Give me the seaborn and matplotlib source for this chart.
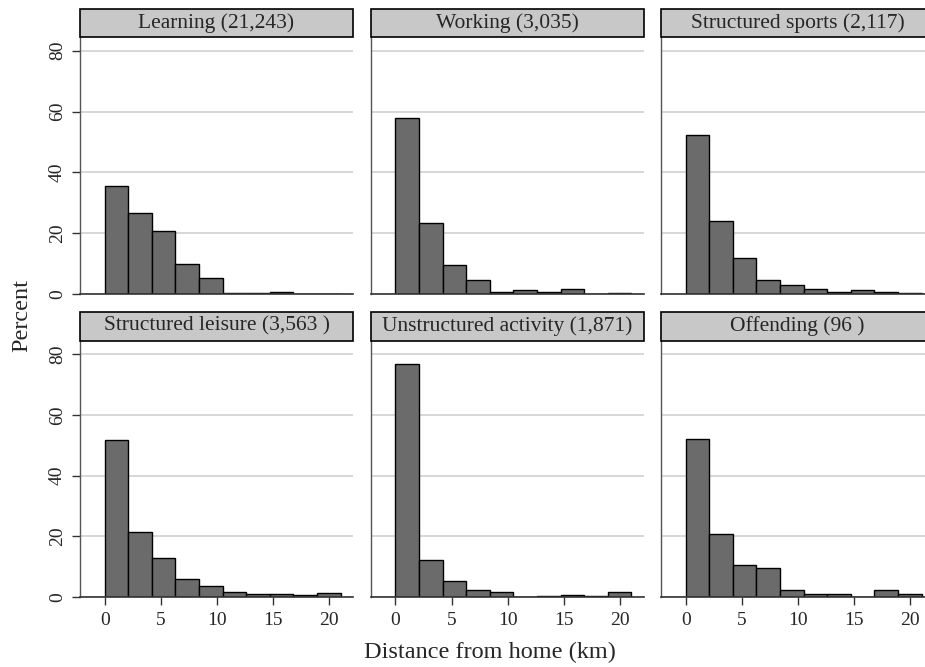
import numpy as np
import pandas as pd
import matplotlib
matplotlib.use("Agg")
import matplotlib.pyplot as plt
import seaborn as sns
from matplotlib.patches import Rectangle

# panel titles (activity and number of trips)
panels = [
    "Learning (21,243)",
    "Working (3,035)",
    "Structured sports (2,117)",
    "Structured leisure (3,563 )",
    "Unstructured activity (1,871)",
    "Offending (96 )",
]

# histogram bins, km
bin_edges = [0, 2.1, 4.2, 6.3, 8.4, 10.5, 12.6, 14.7, 16.8, 18.9, 21.0]

# percent of trips in each bin
learning = [35.6, 26.5, 20.8, 9.7, 5.4, 0.4, 0.2, 0.7, 0.1, 0.1]
working = [58.0, 23.2, 9.4, 4.6, 0.7, 1.3, 0.8, 1.8, 0.1, 0.3]
sports = [52.2, 24.1, 12.0, 4.6, 2.8, 1.5, 0.8, 1.2, 0.8, 0.3]
leisure = [51.6, 21.3, 12.7, 6.0, 3.4, 1.4, 0.9, 1.0, 0.6, 1.2]
unstructured = [76.8, 12.1, 5.1, 2.2, 1.4, 0.0, 0.2, 0.4, 0.2, 1.4]
offending = [52.1, 20.8, 10.4, 9.4, 2.1, 1.04, 1.04, 0.0, 2.08, 1.04]

series = [learning, working, sports, leisure, unstructured, offending]

mids = [(a + b) / 2 for a, b in zip(bin_edges[:-1], bin_edges[1:])]
rows = []
for name, vals in zip(panels, series):
    for m, v in zip(mids, vals):
        rows.append({"panel": name, "distance": m, "percent": v})
df = pd.DataFrame(rows)

sns.set_style("white")
plt.rcParams["font.family"] = ["Liberation Serif", "DejaVu Serif"]

g = sns.FacetGrid(df, col="panel", col_wrap=3, col_order=panels,
                  sharex=True, sharey=True, height=3, aspect=1)
g.map_dataframe(sns.histplot, x="distance", weights="percent",
                bins=bin_edges, stat="count", color="#6b6b6b",
                edgecolor="black", linewidth=1.0, alpha=1.0)

fig = g.figure
fig.set_size_inches(9.25, 6.67)

W, H = 925.0, 667.0
lefts = [80, 370.7, 661]
tops = [37, 340.7]
bottoms = [294, 596.7]
heads = [9, 311.7]
pw = 273

for i, ax in enumerate(g.axes.flat):
    r, c = divmod(i, 3)
    x0 = lefts[c] / W
    y0 = 1 - bottoms[r] / H
    h = (bottoms[r] - tops[r]) / H
    ax.set_position([x0, y0, pw / W, h])
    ax.set_xlim(-2.2, 22.1)
    ax.set_ylim(0, 84.5)
    ax.set_title("")
    ax.set_xlabel("")
    ax.set_ylabel("")
    ax.set_yticks([0, 20, 40, 60, 80])
    ax.set_xticks([0, 5, 10, 15, 20])
    ax.yaxis.grid(True, color="#d4d4d4", linewidth=1.3)
    ax.set_axisbelow(True)
    for s in ["left", "right"]:
        ax.spines[s].set_color("#555555")
        ax.spines[s].set_linewidth(1.0)
    ax.spines["top"].set_visible(False)
    ax.spines["bottom"].set_color("#333333")
    ax.spines["bottom"].set_linewidth(1.2)

    ax.tick_params(axis="y", left=(c == 0), labelleft=(c == 0),
                   length=6, width=1, color="#333333", labelsize=14,
                   pad=4)
    ax.tick_params(axis="x", bottom=(r == 1), labelbottom=(r == 1),
                   length=6, width=1, color="#333333", labelsize=14,
                   pad=5)
    if c == 0:
        for lab in ax.get_yticklabels():
            lab.set_rotation(90)
            lab.set_va("center")

    # header strip
    hh = (tops[r] - heads[r]) / (bottoms[r] - tops[r])
    ax.add_patch(Rectangle((0, 1), 1, hh, transform=ax.transAxes,
                           facecolor="#c8c8c8", edgecolor="black",
                           linewidth=1.2, clip_on=False, zorder=5))
    ax.text(0.5, 1 + hh / 2, panels[i], transform=ax.transAxes,
            ha="center", va="center", fontsize=15.5, zorder=6)

fig.text(22 / W, 1 - 316 / H, "Percent", rotation=90, ha="center",
         va="center", fontsize=17.5)
fig.text(490 / W, 1 - 652 / H, "Distance from home (km)", ha="center",
         va="center", fontsize=17.5)

fig.savefig("out.png", dpi=100)
